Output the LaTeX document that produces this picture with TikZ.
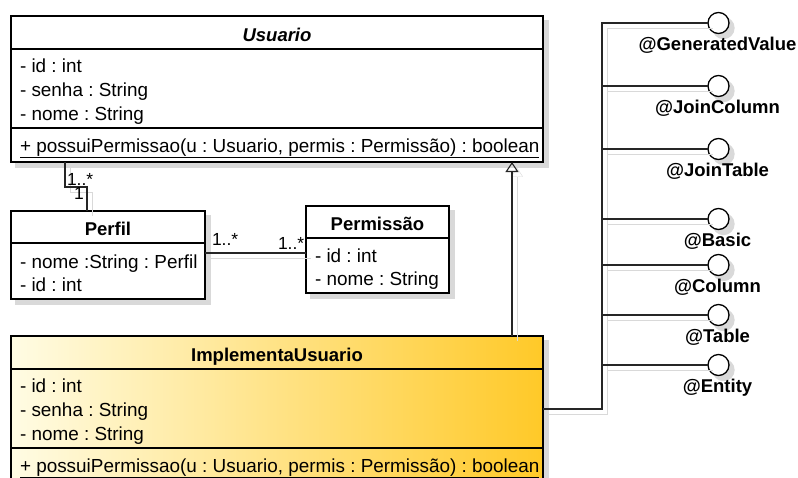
\documentclass[tikz,border=0pt]{standalone}
\usepackage{fontspec}
\setmainfont{Liberation Sans}
\usetikzlibrary{positioning,arrows.meta}
\frenchspacing

\definecolor{creme}{HTML}{FFFCE4}
\definecolor{ouro}{HTML}{FFC928}

\tikzset{
	sombra/.style={preaction={draw=black!15, fill=black!15, transform canvas={shift={(5,5)}}}},
	classe/.style={rectangle, draw=black, line width=1.4, fill=white, sombra},
	divisa/.style={line width=1.1},
	titulo/.style={anchor=base, font=\fontsize{18.5}{22}\selectfont\bfseries},
	attr/.style={anchor=base west},
	mult/.style={anchor=base west, font=\fontsize{17.5}{20}\selectfont},
	ligacao/.style={line width=1.1, draw=black!85, preaction={draw=black!15, transform canvas={shift={(5,5)}}}},
	interface/.style={circle, draw=black, line width=1.3, fill=white, minimum size=21, sombra},
	anot/.style={anchor=base, font=\fontsize{18.5}{22}\selectfont\bfseries},
}

\begin{document}
\begin{tikzpicture}[y=-1pt, x=1pt, inner sep=0pt, outer sep=0pt, font=\fontsize{18.9}{22}\selectfont]
\useasboundingbox (0,0) rectangle (798,477);
\clip (0,0) rectangle (798,477);

% classe abstrata
\node[classe, minimum width=532, minimum height=146] (usr) at (277,89) {};
\draw[divisa] ([yshift=-33]usr.north west) -- ([yshift=-33]usr.north east);
\draw[divisa] ([yshift=-112]usr.north west) -- ([yshift=-112]usr.north east);
\node[titulo] (usrT) at (277,41.5) {\itshape Usuario};
\node[attr] (usrA1) at (20,72) {- id : int};
\node[attr] (usrA2) at (20,96) {- senha : String};
\node[attr] (usrA3) at (20,120) {- nome : String};
\node[attr] (usrM1) at (20,152) {\underline{+ possuiPermissao(u : Usuario, permis : Permissão) : boolean}};

% perfil e permissao
\node[classe, minimum width=194, minimum height=88] (perf) at (108,255) {};
\draw[divisa] ([yshift=-32]perf.north west) -- ([yshift=-32]perf.north east);
\node[titulo] (perfT) at (108,235) {Perfil};
\node[attr] (perfA1) at (20,268) {- nome :String : Perfil};
\node[attr] (perfA2) at (20,291) {- id : int};

\node[classe, minimum width=143, minimum height=87] (perm) at (377.5,249.5) {};
\draw[divisa] ([yshift=-32]perm.north west) -- ([yshift=-32]perm.north east);
\node[titulo] (permT) at (377.5,230) {Permissão};
\node[attr] (permA1) at (315,262) {- id : int};
\node[attr] (permA2) at (315,285) {- nome : String};

% implementacao
\node[classe, left color=creme, right color=ouro, minimum width=532, minimum height=146] (impl) at (277,409) {};
\draw[divisa] ([yshift=-33]impl.north west) -- ([yshift=-33]impl.north east);
\draw[divisa] ([yshift=-112]impl.north west) -- ([yshift=-112]impl.north east);
\node[titulo] (implT) at (277,361.5) {ImplementaUsuario};
\node[attr] (implA1) at (20,392) {- id : int};
\node[attr] (implA2) at (20,416) {- senha : String};
\node[attr] (implA3) at (20,440) {- nome : String};
\node[attr] (implM1) at (20,472) {\underline{+ possuiPermissao(u : Usuario, permis : Permissão) : boolean}};

% associacoes
\coordinate (a1) at (65,187);
\coordinate (a2) at (87,187);
\coordinate (a3) at (0,253);
\draw[ligacao] (usr.south -| a1) -- (a1) -- (a2) -- (perf.north -| a2);
\draw[ligacao] (perf.east |- a3) -- (perm.west |- a3);
\node[mult] (m1) at (67,185) {1..*};
\node[mult] (m2) at (74,199) {1};
\node[mult] (m3) at (212,245) {1..*};
\node[mult] (m4) at (278,249) {1..*};

% heranca
\coordinate (gen) at (512,0);
\draw[ligacao, -{Triangle[open, length=10, width=13, line width=1.1]}] (impl.north -| gen) -- (usr.south -| gen);

% anotacoes
\foreach \nome/\y/\txt in {gv/23/GeneratedValue, jc/86/JoinColumn, jt/149/JoinTable, ba/219/Basic, co/265/Column, ta/315/Table, en/365/Entity} {
	\node[interface] (\nome) at (718.5,\y) {};
	\node[anot] (\nome-rot) at (717.5,\y+27.5) {@\txt};
}
\coordinate (tronco) at (602,409);
\draw[ligacao] (impl.east |- tronco) -- (tronco) -- (tronco |- gv) -- (gv);
\foreach \nome in {jc,jt,ba,co,ta,en}
	\draw[ligacao] (tronco |- \nome) -- (\nome);
\end{tikzpicture}
\end{document}
